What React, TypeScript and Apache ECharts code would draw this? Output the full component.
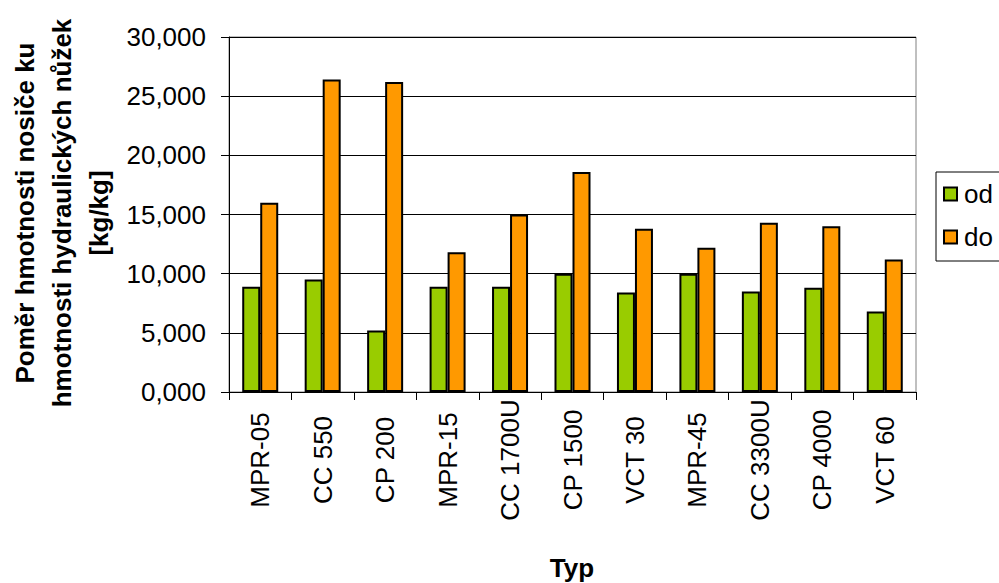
import React, { useEffect, useRef } from "react";
import * as echarts from "echarts";

const categories = [
  "MPR-05",
  "CC 550",
  "CP 200",
  "MPR-15",
  "CC 1700U",
  "CP 1500",
  "VCT 30",
  "MPR-45",
  "CC 3300U",
  "CP 4000",
  "VCT 60",
];
const odValues = [8.9, 9.5, 5.2, 8.9, 8.9, 10.0, 8.4, 10.0, 8.5, 8.8, 6.8];
const doValues = [16.0, 26.4, 26.2, 11.8, 15.0, 18.6, 13.8, 12.2, 14.3, 14.0, 11.2];
const seriesNames = ["od", "do"];
const yTitleLines = [
  "Poměr hmotnosti nosiče ku",
  "hmotnosti hydraulických nůžek",
  "[kg/kg]",
];
const xTitle = "Typ";

const FONT = "'Liberation Sans', Arial, sans-serif";

export default function App() {
  const ref = useRef<HTMLDivElement>(null);

  useEffect(() => {
    if (!ref.current) return;
    const chart = echarts.init(ref.current, null, { renderer: "svg" });
    const barStyle = (color: string) => ({
      color,
      borderColor: "#000",
      borderWidth: 2,
    });
    chart.setOption({
      animation: false,
      backgroundColor: "#fff",
      textStyle: { fontFamily: FONT },
      grid: {
        left: 229,
        right: 83,
        top: 37,
        bottom: 191,
        show: true,
        borderColor: "#808080",
        borderWidth: 1,
      },
      legend: {
        orient: "vertical",
        left: 936,
        top: 172,
        padding: [9, 40, 11, 7],
        itemGap: 17,
        itemWidth: 13,
        itemHeight: 13,
        icon: "rect",
        borderColor: "#000",
        borderWidth: 1,
        textStyle: {
          fontFamily: FONT,
          fontSize: 26,
          color: "#000",
          padding: [0, 0, 0, 2],
        },
        data: seriesNames,
      },
      xAxis: {
        type: "category",
        data: categories,
        axisLine: { lineStyle: { color: "#000", width: 1 } },
        axisTick: {
          show: true,
          length: 8,
          lineStyle: { color: "#000" },
        },
        axisLabel: {
          rotate: 90,
          align: "center",
          verticalAlign: "middle",
          margin: 68,
          fontFamily: FONT,
          fontSize: 26,
          color: "#000",
          interval: 0,
        },
        splitLine: { show: false },
      },
      yAxis: {
        type: "value",
        min: 0,
        max: 30,
        interval: 5,
        axisLine: { show: true, lineStyle: { color: "#000", width: 1 } },
        axisTick: { show: true, length: 8, lineStyle: { color: "#000" } },
        axisLabel: {
          margin: 23,
          fontFamily: FONT,
          fontSize: 26,
          color: "#000",
          formatter: (v: number) => v.toFixed(3).replace(".", ","),
        },
        splitLine: { show: true, lineStyle: { color: "#000", width: 1 } },
      },
      graphic: [
        {
          type: "text",
          x: 62,
          y: 213,
          rotation: Math.PI / 2,
          style: {
            text: yTitleLines.join("\n"),
            font: `bold 26px ${FONT}`,
            fill: "#000",
            align: "center",
            verticalAlign: "middle",
            lineHeight: 37,
          },
        },
        {
          type: "text",
          x: 572,
          y: 568,
          style: {
            text: xTitle,
            font: `bold 26px ${FONT}`,
            fill: "#000",
            align: "center",
            verticalAlign: "middle",
          },
        },
      ],
      series: [
        {
          name: seriesNames[0],
          type: "bar",
          data: odValues,
          barWidth: 18,
          barGap: "0%",
          itemStyle: barStyle("#99CC00"),
        },
        {
          name: seriesNames[1],
          type: "bar",
          data: doValues,
          barWidth: 18,
          barGap: "0%",
          itemStyle: barStyle("#FF9900"),
        },
      ],
    });
    return () => chart.dispose();
  }, []);

  return (
    <div
      ref={ref}
      style={{
        width: 999,
        height: 583,
        position: "absolute",
        left: 0,
        top: 0,
      }}
    />
  );
}
